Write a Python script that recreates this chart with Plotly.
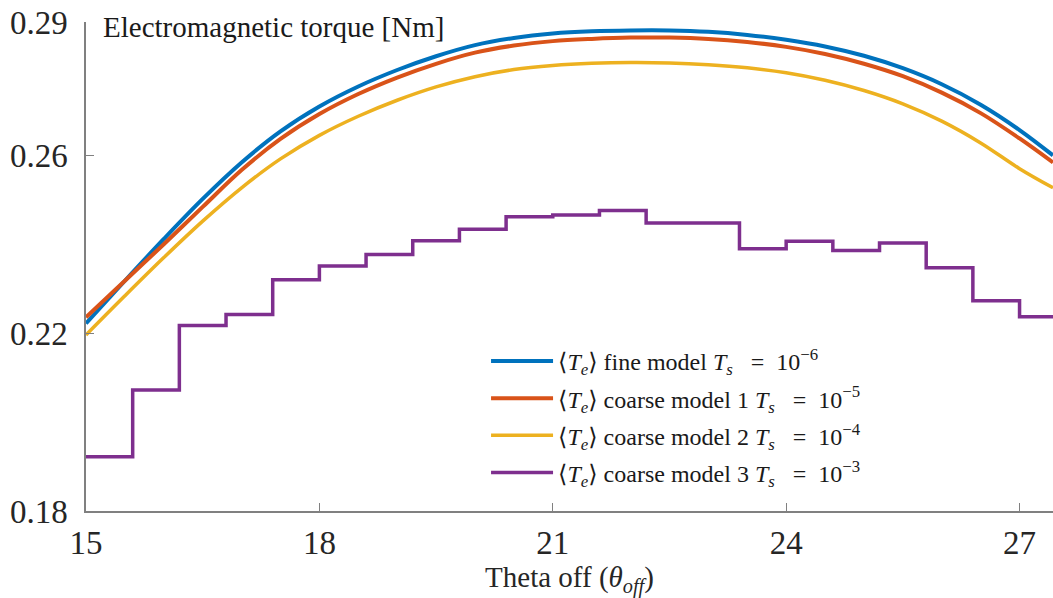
import plotly.graph_objects as go

# ---- data ----
theta = [15.0, 15.5, 16.0, 16.5, 17.0, 17.5, 18.0, 18.5, 19.0, 19.5, 20.0, 20.5,
         21.0, 21.5, 22.0, 22.5, 23.0, 23.5, 24.0, 24.5, 25.0, 25.5, 26.0, 26.5,
         27.0, 27.43]

fine_model = [0.2222, 0.2318, 0.2412, 0.2502, 0.2584, 0.2654, 0.2710, 0.2755,
              0.2792, 0.2823, 0.2848, 0.2864, 0.2874, 0.2879, 0.2881, 0.2881,
              0.2878, 0.2871, 0.2860, 0.2845, 0.2824, 0.2796, 0.2760, 0.2714,
              0.2657, 0.2600]

coarse_1 = [0.2236, 0.2318, 0.2400, 0.2484, 0.2567, 0.2637, 0.2693, 0.2738,
            0.2775, 0.2806, 0.2831, 0.2847, 0.2857, 0.2862, 0.2865, 0.2865,
            0.2862, 0.2855, 0.2844, 0.2828, 0.2806, 0.2778, 0.2741, 0.2695,
            0.2638, 0.2584]

coarse_2 = [0.2196, 0.2284, 0.2370, 0.2452, 0.2527, 0.2592, 0.2645, 0.2688,
            0.2724, 0.2754, 0.2777, 0.2793, 0.2802, 0.2807, 0.2809, 0.2808,
            0.2804, 0.2797, 0.2786, 0.2769, 0.2746, 0.2716, 0.2677, 0.2628,
            0.2570, 0.2527]

theta_steps = [15.0, 15.6, 16.2, 16.8, 17.4, 18.0, 18.6, 19.2, 19.8, 20.4, 21.0,
               21.6, 22.2, 22.8, 23.4, 24.0, 24.6, 25.2, 25.8, 26.4, 27.0, 27.43]
coarse_3 = [0.1922, 0.2072, 0.2217, 0.2242, 0.2320, 0.2351, 0.2377, 0.2408,
            0.2434, 0.2462, 0.2466, 0.2476, 0.2448, 0.2448, 0.2390, 0.2407,
            0.2386, 0.2403, 0.2347, 0.2273, 0.2237, 0.2237]

x_ticks = [15, 18, 21, 24, 27]
y_ticks = [0.18, 0.22, 0.26, 0.29]
y_tick_text = ["0.18", "0.22", "0.26", "0.29"]

EQ = "&nbsp;&nbsp;&nbsp;=&nbsp;&nbsp;"
TE = "⟨<i>T</i><sub><i>e</i></sub>⟩"
TS = "<i>T</i><sub><i>s</i></sub>"
names = [
    f"{TE} fine model {TS}{EQ}10<sup>−6</sup>",
    f"{TE} coarse model 1 {TS}{EQ}10<sup>−5</sup>",
    f"{TE} coarse model 2 {TS}{EQ}10<sup>−4</sup>",
    f"{TE} coarse model 3 {TS}{EQ}10<sup>−3</sup>",
]
colors = ["#0072BD", "#D95319", "#EDB120", "#7E2F8E"]

FONT = "Liberation Serif, Times New Roman, DejaVu Serif, serif"

fig = go.Figure()
for i, (y, w) in enumerate([(fine_model, 4), (coarse_1, 4), (coarse_2, 3.5)]):
    fig.add_trace(go.Scatter(x=theta, y=y, mode="lines", name=names[i],
                             legendgroup=f"g{i}",
                             line=dict(color=colors[i], width=w, shape="spline", smoothing=1.0)))
fig.add_trace(go.Scatter(x=theta_steps, y=coarse_3, mode="lines", name=names[3],
                         legendgroup="g3",
                         line=dict(color=colors[3], width=3.5, shape="hv")))

axis_common = dict(showgrid=False, zeroline=False, showline=True, linecolor="#808080",
                   linewidth=1.5, ticks="inside", ticklen=8, tickcolor="#808080",
                   tickwidth=1.2, tickfont=dict(family=FONT, size=33, color="#262626"),
                   mirror=False, automargin=False)

fig.update_xaxes(range=[15, 27.43], tickvals=x_ticks, ticklabelstandoff=2,
                 title=dict(text="Theta off (<i>θ</i><sub><i>off</i></sub>)",
                            font=dict(family=FONT, size=29, color="#262626"), standoff=6),
                 **axis_common)
fig.update_yaxes(range=[0.18, 0.29], tickvals=y_ticks, ticktext=y_tick_text,
                 ticklabelstandoff=10, **axis_common)

fig.add_annotation(text="Electromagnetic torque [Nm]", xref="paper", yref="paper",
                   x=0, y=1, xanchor="left", yanchor="middle", xshift=15, yshift=-5,
                   showarrow=False, font=dict(family=FONT, size=29, color="#1a1a1a"))

fig.update_layout(
    width=1053, height=598,
    margin=dict(l=86, r=0, t=22, b=87),
    plot_bgcolor="white", paper_bgcolor="white",
    font=dict(family=FONT),
    legend=dict(x=0.4137, y=0.352, xanchor="left", yanchor="top",
                font=dict(family=FONT, size=24, color="#1a1a1a"),
                bgcolor="rgba(255,255,255,0)", tracegroupgap=3, itemwidth=62),
    showlegend=True,
)

fig.write_html("out.html", config={"displayModeBar": False},
               post_script="document.body.style.margin='0';document.body.style.overflow='hidden';")
